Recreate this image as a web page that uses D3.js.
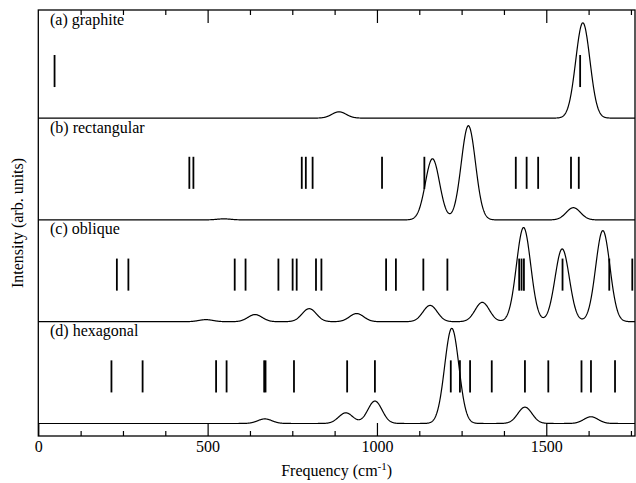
<!DOCTYPE html>
<html><head><meta charset="utf-8">
<script src="https://cdn.jsdelivr.net/npm/d3@7"></script>
<style>
body{margin:0;background:#fff}
</style>
</head><body>
<svg id="chart" width="636" height="483"></svg>
<script>
// ---- data ----
const panelLabels = ["(a) graphite", "(b) rectangular", "(c) oblique", "(d) hexagonal"];
// mode frequencies (cm-1) shown as sticks
const sticksA = [48, 1600];
const sticksB = [446, 458, 778, 790, 810, 1015, 1140, 1410, 1442, 1476, 1573, 1596];
const sticksC = [232, 266, 580, 612, 709, 751, 763, 820, 836, 1027, 1056, 1137, 1208, 1420, 1427, 1434, 1548, 1686, 1754];
const sticksD = [216, 308, 525, 556, 667, 671, 755, 912, 994, 1218, 1245, 1275, 1339, 1437, 1506, 1604, 1632, 1703];
// spectrum peaks: [centre (cm-1), intensity (arb. units)]
const peaksA = [[888, 0.062], [1608, 0.936]];
const peaksB = [[548, 0.01], [1164, 0.60], [1270, 0.925], [1580, 0.12]];
const peaksC = [[495, 0.02], [640, 0.07], [800, 0.128], [940, 0.08], [1157, 0.16], [1311, 0.19], [1433, 0.925], [1547, 0.715], [1667, 0.895]];
const peaksD = [[669, 0.045], [908, 0.105], [994, 0.22], [1221, 0.935], [1437, 0.16], [1632, 0.066]];
const peakWidth = 21; // Gaussian sigma, cm-1
const xMajorTicks = [0, 500, 1000, 1500];
const xMinorTicks = [125, 250, 375, 625, 750, 875, 1125, 1250, 1375, 1625, 1750];

const sticks = [sticksA, sticksB, sticksC, sticksD];
const peaks = [peaksA, peaksB, peaksC, peaksD];
const offsets = [3.123, 2.123, 1.123, 0.123];

const FONT = "'Liberation Serif', 'Times New Roman', 'DejaVu Serif', serif";

// ---- layout ----
const L = 38.3, R = 635, T = 10, B = 436;
const svg = d3.select("#chart");
const x = d3.scaleLinear().domain([0, 1762]).range([L, R]);
const y = d3.scaleLinear().domain([0, 4.185]).range([B, T]);

const line = d3.line().x(d => x(d[0])).y(d => y(d[1]));

const xs = d3.range(0, 1762.01, 1);
peaks.forEach((pk, i) => {
  const off = offsets[i];
  const pts = xs.map(f => {
    let s = 0;
    pk.forEach(([c, h]) => { s += h * Math.exp(-((f - c) ** 2) / (2 * peakWidth * peakWidth)); });
    return [f, off + s];
  });
  svg.append("path").attr("d", line(pts)).attr("fill", "none")
    .attr("stroke", "#000").attr("stroke-width", 1.2);

  svg.selectAll(null).data(sticks[i]).enter().append("line")
    .attr("x1", d => x(d)).attr("x2", d => x(d))
    .attr("y1", y(off + 0.305)).attr("y2", y(off + 0.62))
    .attr("stroke", "#000").attr("stroke-width", 1.8);

  const topLine = i === 0 ? T : y(offsets[i - 1]);
  svg.append("text").attr("x", 50).attr("y", topLine + 14.5)
    .attr("font-family", FONT).attr("font-size", 16).attr("fill", "#000")
    .text(panelLabels[i]);
});

// frame
svg.append("rect").attr("x", L).attr("y", T).attr("width", R - L).attr("height", B - T)
  .attr("fill", "none").attr("stroke", "#000").attr("stroke-width", 1.3);

// axes ticks
function styleAxis(g) { g.select(".domain").remove(); g.selectAll("line").attr("stroke", "#000").attr("stroke-width", 1.2); }
svg.append("g").attr("transform", `translate(0,${B})`)
  .call(d3.axisBottom(x).tickValues(xMinorTicks).tickSize(-5).tickFormat(""))
  .call(styleAxis);
const bx = svg.append("g").attr("transform", `translate(0,${B})`)
  .call(d3.axisBottom(x).tickValues(xMajorTicks).tickSize(-13).tickPadding(5).tickFormat(d3.format("d")))
  .call(styleAxis);
bx.attr("font-family", FONT).attr("font-size", 16);
bx.selectAll("text").attr("fill", "#000");
svg.append("g").attr("transform", `translate(0,${T})`)
  .call(d3.axisTop(x).tickValues(xMinorTicks).tickSize(-5).tickFormat(""))
  .call(styleAxis);
svg.append("g").attr("transform", `translate(0,${T})`)
  .call(d3.axisTop(x).tickValues(xMajorTicks.slice(1)).tickSize(-13).tickFormat(""))
  .call(styleAxis);

// axis titles
const xt = svg.append("text").attr("x", (L + R) / 2).attr("y", 476)
  .attr("text-anchor", "middle").attr("font-family", FONT).attr("font-size", 16).attr("fill", "#000");
xt.append("tspan").text("Frequency (cm");
xt.append("tspan").attr("dy", -6).attr("font-size", 11).text("-1");
xt.append("tspan").attr("dy", 6).text(")");

svg.append("text").attr("transform", `translate(23,${(T + B) / 2}) rotate(-90)`)
  .attr("text-anchor", "middle").attr("font-family", FONT).attr("font-size", 16).attr("fill", "#000")
  .text("Intensity (arb. units)");
</script>
</body></html>
